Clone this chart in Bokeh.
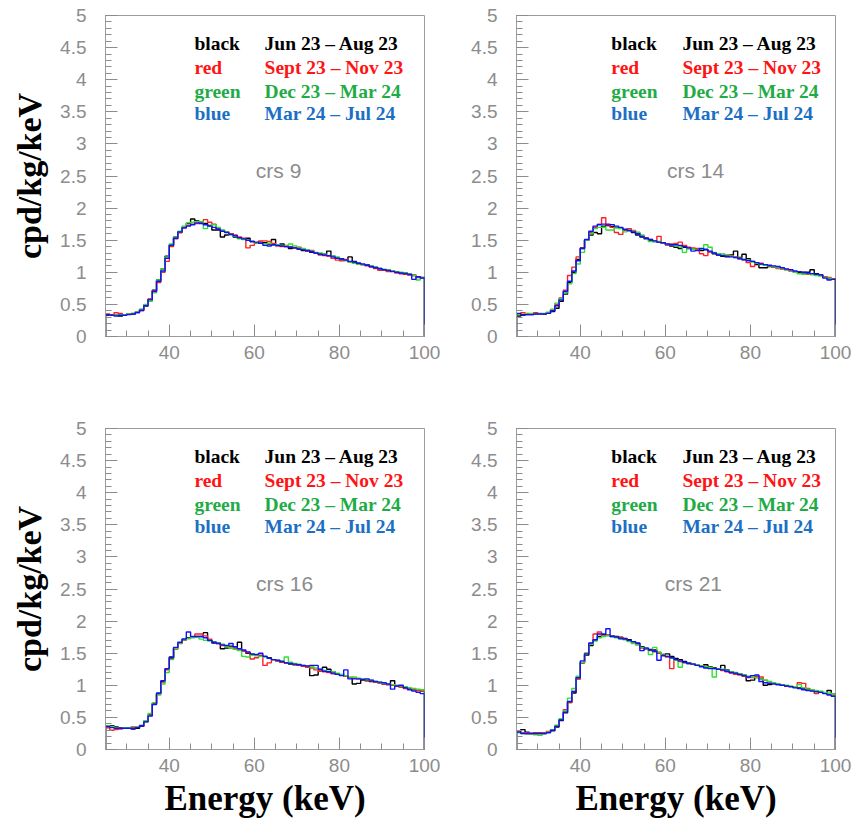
import numpy as np
from bokeh.plotting import figure
from bokeh.layouts import column, row
from bokeh.models import FixedTicker, CustomJSTickFormatter, Label, Range1d
from bokeh.embed import file_html
from bokeh.resources import INLINE

# ---------------- data ----------------
BIN_EDGES = list(range(25, 101))          # 1 keV bins, 25..100 keV
PERIOD_NAMES = ["black", "red", "green", "blue"]
PERIOD_LABELS = ["Jun 23 \u2013 Aug 23", "Sept 23 \u2013 Nov 23",
                 "Dec 23 \u2013 Mar 24", "Mar 24 \u2013 Jul 24"]
CRYSTALS = ["crs 9", "crs 14", "crs 16", "crs 21"]
Y_TICKS = [0, 0.5, 1, 1.5, 2, 2.5, 3, 3.5, 4, 4.5, 5]
Y_MINOR = [i / 10 for i in range(51)]
X_TICKS = [40, 60, 80, 100]
X_MINOR = [25, 30, 35, 40, 45, 50, 55, 60, 65, 70, 75, 80, 85, 90, 95, 100]

crs9_black = [0.33,0.34,0.33,0.32,0.34,0.35,0.35,0.38,0.42,0.49,
              0.58,0.72,0.88,1.05,1.25,1.43,1.55,1.62,1.70,1.76,
              1.83,1.80,1.77,1.76,1.73,1.66,1.66,1.55,1.58,1.60,
              1.55,1.53,1.52,1.53,1.48,1.46,1.47,1.46,1.44,1.51,
              1.42,1.44,1.40,1.37,1.38,1.37,1.34,1.33,1.31,1.30,
              1.29,1.28,1.33,1.25,1.22,1.20,1.19,1.24,1.17,1.14,
              1.12,1.12,1.09,1.08,1.05,1.04,1.02,1.02,1.00,0.98,
              0.99,0.96,0.95,0.93,0.92]
crs9_red = [0.35,0.33,0.37,0.36,0.33,0.35,0.36,0.38,0.40,0.47,
            0.58,0.71,0.84,1.00,1.17,1.40,1.52,1.62,1.70,1.73,
            1.75,1.76,1.79,1.82,1.78,1.75,1.68,1.65,1.63,1.60,
            1.58,1.55,1.53,1.38,1.42,1.46,1.49,1.49,1.48,1.45,
            1.41,1.40,1.42,1.40,1.38,1.39,1.36,1.33,1.34,1.30,
            1.27,1.26,1.25,1.22,1.19,1.18,1.20,1.16,1.15,1.13,
            1.12,1.10,1.08,1.06,1.03,1.04,1.01,1.02,0.99,0.98,
            0.97,0.96,0.96,0.92,0.91]
crs9_green = [0.34,0.33,0.33,0.34,0.34,0.35,0.36,0.38,0.42,0.50,
              0.55,0.68,0.88,1.05,1.24,1.44,1.55,1.64,1.72,1.77,
              1.78,1.79,1.79,1.68,1.72,1.74,1.70,1.66,1.63,1.58,
              1.56,1.52,1.51,1.50,1.48,1.46,1.45,1.44,1.45,1.42,
              1.43,1.42,1.41,1.44,1.41,1.38,1.37,1.35,1.33,1.31,
              1.30,1.28,1.26,1.25,1.24,1.21,1.18,1.16,1.14,1.13,
              1.12,1.11,1.10,1.08,1.06,1.05,1.04,1.02,1.01,1.00,
              0.99,0.97,0.95,0.88,0.91]
crs9_blue = [0.34,0.33,0.32,0.33,0.33,0.34,0.35,0.37,0.41,0.48,
             0.57,0.70,0.86,1.02,1.22,1.42,1.53,1.63,1.69,1.72,
             1.74,1.77,1.76,1.74,1.72,1.70,1.67,1.64,1.62,1.59,
             1.57,1.54,1.52,1.50,1.48,1.47,1.45,1.42,1.41,1.43,
             1.42,1.41,1.40,1.39,1.38,1.36,1.35,1.34,1.32,1.30,
             1.28,1.27,1.26,1.24,1.22,1.21,1.19,1.17,1.16,1.14,
             1.13,1.11,1.09,1.07,1.06,1.04,1.03,1.01,1.00,0.99,
             0.98,0.97,0.89,0.93,0.91]

crs14_black = [0.32,0.33,0.34,0.34,0.35,0.35,0.35,0.37,0.39,0.44,
               0.55,0.66,0.84,1.00,1.20,1.38,1.50,1.58,1.62,1.60,
               1.72,1.73,1.71,1.70,1.69,1.66,1.65,1.62,1.58,1.55,
               1.52,1.50,1.48,1.47,1.45,1.43,1.41,1.39,1.37,1.39,
               1.37,1.36,1.35,1.34,1.35,1.32,1.29,1.27,1.25,1.24,
               1.27,1.33,1.23,1.28,1.21,1.17,1.12,1.07,1.07,1.09,
               1.08,1.07,1.06,1.05,1.03,1.01,1.00,0.99,1.00,1.04,
               0.98,0.96,0.93,0.90,0.90]
crs14_red = [0.35,0.37,0.36,0.35,0.37,0.36,0.35,0.37,0.42,0.50,
             0.60,0.72,0.95,1.08,1.24,1.37,1.50,1.62,1.70,1.75,
             1.85,1.74,1.70,1.62,1.59,1.66,1.68,1.65,1.62,1.56,
             1.54,1.51,1.49,1.56,1.45,1.43,1.44,1.45,1.47,1.42,
             1.39,1.38,1.37,1.29,1.26,1.32,1.30,1.29,1.28,1.27,
             1.26,1.24,1.21,1.19,1.15,1.09,1.15,1.14,1.12,1.10,
             1.08,1.06,1.05,1.04,1.02,1.01,0.98,1.00,0.97,0.98,
             0.96,0.95,0.93,0.92,0.90]
crs14_green = [0.34,0.34,0.35,0.36,0.35,0.35,0.36,0.38,0.42,0.52,
               0.59,0.68,0.82,0.98,1.13,1.31,1.50,1.60,1.68,1.70,
               1.70,1.66,1.66,1.69,1.68,1.63,1.65,1.64,1.62,1.58,
               1.52,1.48,1.48,1.48,1.46,1.44,1.43,1.41,1.40,1.31,
               1.37,1.36,1.35,1.36,1.43,1.39,1.31,1.29,1.28,1.27,
               1.25,1.23,1.22,1.20,1.19,1.16,1.14,1.12,1.11,1.10,
               1.09,1.07,1.06,1.04,1.03,1.00,0.98,0.97,0.98,0.96,
               0.95,0.94,0.92,0.91,0.89]
crs14_blue = [0.36,0.34,0.34,0.34,0.35,0.35,0.35,0.36,0.40,0.48,
              0.57,0.70,0.86,1.02,1.18,1.37,1.51,1.64,1.72,1.74,
              1.75,1.75,1.74,1.72,1.70,1.67,1.65,1.63,1.60,1.56,
              1.53,1.51,1.49,1.47,1.46,1.44,1.43,1.43,1.42,1.40,
              1.38,1.33,1.34,1.37,1.36,1.33,1.30,1.27,1.26,1.25,
              1.24,1.23,1.21,1.20,1.18,1.17,1.15,1.13,1.12,1.11,
              1.10,1.09,1.07,1.05,1.04,1.02,1.01,1.00,0.99,0.98,
              0.97,0.96,0.91,0.88,0.89]

crs16_black = [0.34,0.37,0.35,0.34,0.33,0.33,0.32,0.33,0.36,0.44,
               0.54,0.72,0.87,1.06,1.25,1.44,1.58,1.66,1.72,1.74,
               1.75,1.76,1.76,1.82,1.70,1.66,1.66,1.57,1.58,1.61,
               1.60,1.67,1.53,1.50,1.48,1.47,1.46,1.45,1.43,1.40,
               1.38,1.36,1.35,1.33,1.32,1.31,1.30,1.29,1.15,1.16,
               1.22,1.28,1.25,1.21,1.18,1.16,1.14,1.12,1.02,1.03,
               1.08,1.07,1.06,1.05,1.04,1.02,1.01,1.07,0.99,0.98,
               0.97,0.95,0.93,0.92,0.91]
crs16_red = [0.34,0.30,0.31,0.32,0.33,0.34,0.35,0.35,0.37,0.43,
             0.53,0.71,0.86,1.05,1.24,1.42,1.56,1.65,1.70,1.73,
             1.75,1.80,1.80,1.77,1.72,1.68,1.65,1.62,1.60,1.58,
             1.57,1.55,1.53,1.51,1.41,1.43,1.47,1.31,1.35,1.40,
             1.38,1.36,1.35,1.34,1.33,1.31,1.30,1.28,1.27,1.24,
             1.22,1.21,1.20,1.18,1.17,1.16,1.14,1.12,1.11,1.10,
             1.09,1.08,1.07,1.05,1.04,1.02,1.01,1.00,0.99,0.97,
             0.95,0.94,0.93,0.92,0.91]
crs16_green = [0.37,0.36,0.34,0.33,0.34,0.34,0.34,0.35,0.38,0.45,
               0.56,0.73,0.85,1.02,1.20,1.40,1.57,1.66,1.71,1.73,
               1.74,1.75,1.72,1.70,1.69,1.68,1.66,1.64,1.60,1.58,
               1.56,1.54,1.45,1.44,1.47,1.46,1.45,1.44,1.42,1.40,
               1.39,1.38,1.44,1.36,1.34,1.33,1.31,1.30,1.29,1.27,
               1.25,1.23,1.22,1.21,1.19,1.17,1.15,1.13,1.13,1.11,
               1.10,1.09,1.08,1.06,1.05,1.03,1.02,1.01,1.00,0.99,
               0.98,0.96,0.95,0.94,0.93]
crs16_blue = [0.36,0.34,0.33,0.33,0.33,0.33,0.33,0.34,0.37,0.43,
              0.52,0.70,0.88,1.07,1.26,1.43,1.59,1.67,1.72,1.83,
              1.76,1.76,1.76,1.74,1.70,1.67,1.65,1.63,1.62,1.65,
              1.60,1.57,1.55,1.52,1.49,1.48,1.50,1.45,1.42,1.40,
              1.39,1.37,1.35,1.34,1.33,1.32,1.31,1.30,1.31,1.31,
              1.25,1.22,1.21,1.19,1.17,1.15,1.24,1.10,1.10,1.10,
              1.09,1.10,1.08,1.06,1.05,1.04,1.02,0.94,0.99,1.00,
              0.96,0.93,0.91,0.89,0.87]

crs21_black = [0.27,0.31,0.27,0.25,0.26,0.25,0.25,0.27,0.29,0.35,
               0.45,0.57,0.73,0.88,1.10,1.35,1.47,1.62,1.70,1.76,
               1.79,1.78,1.77,1.76,1.75,1.73,1.71,1.68,1.65,1.60,
               1.57,1.56,1.55,1.50,1.48,1.49,1.45,1.42,1.40,1.37,
               1.35,1.33,1.31,1.30,1.32,1.29,1.27,1.26,1.31,1.24,
               1.21,1.19,1.18,1.16,1.07,1.08,1.12,1.10,1.00,1.01,
               1.03,1.01,1.00,0.99,0.98,0.97,0.96,0.95,0.93,0.92,
               0.91,0.89,0.88,0.92,0.86]
crs21_red = [0.27,0.26,0.26,0.25,0.26,0.26,0.26,0.28,0.30,0.37,
             0.47,0.62,0.74,0.91,1.10,1.35,1.50,1.65,1.80,1.83,
             1.77,1.78,1.76,1.75,1.74,1.72,1.69,1.66,1.63,1.58,
             1.56,1.54,1.52,1.50,1.47,1.44,1.26,1.40,1.37,1.35,
             1.34,1.33,1.31,1.30,1.28,1.27,1.26,1.25,1.23,1.21,
             1.19,1.17,1.16,1.14,1.12,1.12,1.14,1.13,1.08,1.05,
             1.03,1.02,1.00,0.99,0.98,0.97,1.04,1.03,0.95,0.93,
             0.87,0.90,0.88,0.86,0.85]
crs21_green = [0.26,0.25,0.24,0.25,0.23,0.22,0.25,0.27,0.31,0.38,
               0.48,0.60,0.80,0.95,1.14,1.36,1.50,1.64,1.69,1.74,
               1.76,1.77,1.76,1.74,1.72,1.71,1.68,1.65,1.63,1.59,
               1.57,1.48,1.59,1.52,1.47,1.45,1.42,1.39,1.28,1.35,
               1.34,1.33,1.32,1.30,1.29,1.28,1.13,1.26,1.25,1.23,
               1.21,1.20,1.18,1.16,1.14,1.13,1.12,1.10,1.08,1.06,
               1.04,1.02,1.01,1.00,0.99,0.98,1.01,0.96,0.94,0.93,
               0.92,0.91,0.89,0.88,0.86]
crs21_blue = [0.27,0.25,0.25,0.25,0.25,0.25,0.25,0.26,0.30,0.36,
              0.46,0.58,0.75,0.90,1.12,1.38,1.49,1.66,1.71,1.80,
              1.80,1.88,1.76,1.75,1.73,1.72,1.70,1.68,1.66,1.54,
              1.58,1.55,1.53,1.39,1.46,1.45,1.43,1.40,1.38,1.36,
              1.34,1.33,1.31,1.29,1.27,1.26,1.26,1.25,1.24,1.22,
              1.20,1.19,1.17,1.15,1.13,1.15,1.16,1.06,1.04,1.03,
              1.02,1.01,1.00,0.99,0.98,0.96,0.95,0.93,0.92,0.91,
              0.90,0.89,0.87,0.85,0.83]

SPECTRA = {
    "crs 9":  [crs9_black, crs9_red, crs9_green, crs9_blue],
    "crs 14": [crs14_black, crs14_red, crs14_green, crs14_blue],
    "crs 16": [crs16_black, crs16_red, crs16_green, crs16_blue],
    "crs 21": [crs21_black, crs21_red, crs21_green, crs21_blue],
}

# ---------------- styles ----------------
LINE_COLORS = ["#000000", "#ff2020", "#30e030", "#1010ff"]
TEXT_COLORS = ["#000000", "#ff1414", "#1fab46", "#1b6fc4"]
GREY = "#8c8c8c"
FRAME = "#9c9c9c"


def hist_path(vals):
    e = np.asarray(BIN_EDGES, dtype=float)
    v = np.asarray(vals, dtype=float)
    xs = np.repeat(e, 2)
    ys = np.concatenate([[0.0], np.repeat(v, 2), [0.0]])
    return xs, ys


def make_panel(name, width, height, bl, br, bt, bb, ylabel, xlabel,
               legend_x, date_x, name_x):
    p = figure(width=width, height=height, output_backend="svg", toolbar_location=None,
               x_range=Range1d(25, 100), y_range=Range1d(0, 5),
               min_border_left=bl, min_border_right=br, min_border_top=bt, min_border_bottom=bb)
    p.xgrid.visible = False
    p.ygrid.visible = False
    p.outline_line_color = FRAME
    p.outline_line_width = 1
    p.background_fill_color = "white"
    p.border_fill_color = "white"

    for vals, col in zip(SPECTRA[name], LINE_COLORS):
        xs, ys = hist_path(vals)
        p.line(xs, ys, line_color=col, line_width=1.4)

    p.yaxis.ticker = FixedTicker(ticks=Y_TICKS, minor_ticks=Y_MINOR)
    p.xaxis.ticker = FixedTicker(ticks=X_TICKS, minor_ticks=X_MINOR)
    fmt = "return (Math.round(tick*10)/10).toString();"
    for ax in (p.xaxis[0], p.yaxis[0]):
        ax.formatter = CustomJSTickFormatter(code=fmt)
        ax.axis_line_color = FRAME
        ax.major_tick_line_color = GREY
        ax.minor_tick_line_color = GREY
        ax.major_tick_in = 12
        ax.major_tick_out = 0
        ax.minor_tick_in = 6
        ax.minor_tick_out = 0
        ax.major_label_text_color = GREY
        ax.major_label_text_font = "Liberation Sans"
        ax.major_label_text_font_size = "19px"
    p.yaxis.major_label_standoff = 19
    p.xaxis.major_label_standoff = 9

    for ax, lab, fs, so in ((p.yaxis[0], ylabel, "34px", 9), (p.xaxis[0], xlabel, "35px", 4)):
        if lab:
            ax.axis_label = lab
            ax.axis_label_text_font = "Liberation Serif"
            ax.axis_label_text_font_style = "bold"
            ax.axis_label_text_font_size = fs
            ax.axis_label_text_color = "black"
            ax.axis_label_standoff = so
    if xlabel:
        p.xaxis.axis_label_text_line_height = 0.7

    rows_y = [4.56, 4.19, 3.82, 3.47]
    for nm, lab, col, yy in zip(PERIOD_NAMES, PERIOD_LABELS, TEXT_COLORS, rows_y):
        for txt, xx in ((nm, legend_x), (lab, date_x)):
            p.add_layout(Label(x=xx, y=yy, text=txt, text_color=col,
                               text_font="Liberation Serif", text_font_style="bold",
                               text_font_size="19.5px", text_baseline="middle"))
    p.add_layout(Label(x=name_x, y=2.59, text=name, text_color=GREY,
                       text_font="Liberation Sans", text_font_size="21px",
                       text_align="center", text_baseline="middle"))
    return p


p1 = make_panel("crs 9", 440, 390, 105, 16, 15, 54, "cpd/kg/keV", None, 45.9, 62.4, 65.7)
p2 = make_panel("crs 14", 415, 390, 76, 20, 15, 54, None, None, 47.3, 64.0, 67.1)
p3 = make_panel("crs 16", 440, 431, 105, 16, 38, 72, "cpd/kg/keV", "Energy (keV)", 45.9, 62.4, 67.1)
p4 = make_panel("crs 21", 415, 431, 76, 20, 38, 72, None, "Energy (keV)", 47.3, 64.0, 66.6)

layout = column(row(p1, p2), row(p3, p4))
open("out.html", "w").write(file_html(layout, INLINE))
